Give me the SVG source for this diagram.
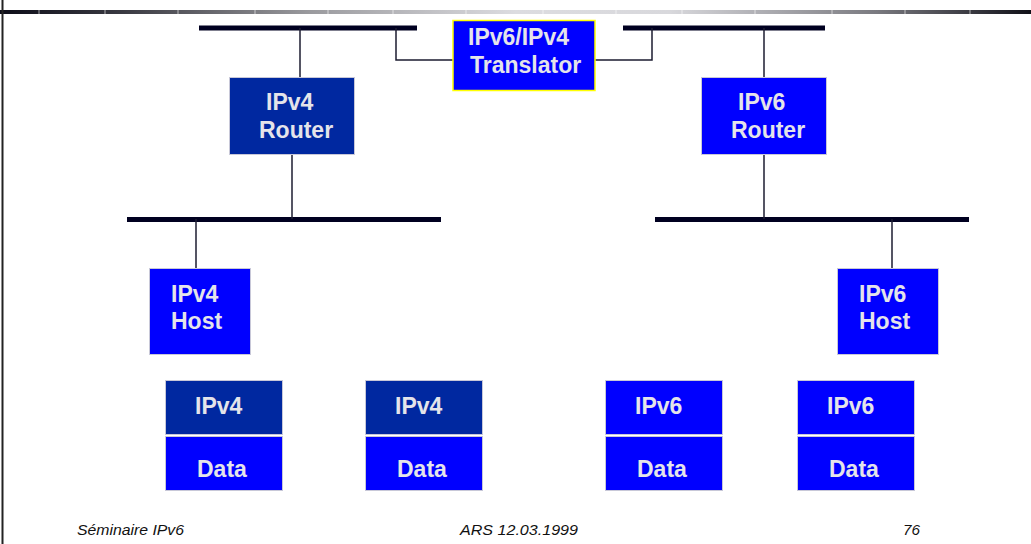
<svg xmlns="http://www.w3.org/2000/svg" width="1031" height="544" viewBox="0 0 1031 544">
<defs>
<linearGradient id="topbar" x1="0" y1="0" x2="1031" y2="0" gradientUnits="userSpaceOnUse">
<stop offset="0" stop-color="#0c0c18"/>
<stop offset="0.12" stop-color="#3a3a42"/>
<stop offset="0.3" stop-color="#9a9a9e"/>
<stop offset="0.5" stop-color="#dcdce0"/>
<stop offset="0.65" stop-color="#d8d8dc"/>
<stop offset="0.85" stop-color="#7a7a80"/>
<stop offset="1" stop-color="#101018"/>
</linearGradient>
</defs>
<style>
.dark{fill:#0028a0;stroke:#c8c8d8;stroke-width:1}
.bright{fill:#0000ff;stroke:#c8c8d8;stroke-width:1}
.lbl{font-family:"Liberation Sans",Arial,sans-serif;font-weight:bold;font-size:23px;fill:#e4e4ea}
.bus{stroke:#000020;stroke-width:5;fill:none}
.wire{stroke:#1c1c30;stroke-width:1.5;fill:none}
.foot{font-family:"Liberation Sans",Arial,sans-serif;font-style:italic;font-size:15px;fill:#111}
.tick{stroke:#ffffff;stroke-width:1;opacity:0.6}
</style>
<rect width="1031" height="544" fill="#ffffff"/>
<rect x="0" y="10" width="1031" height="4" fill="url(#topbar)"/>
<g>
<line class="tick" x1="39" y1="10" x2="39" y2="14"/>
<line class="tick" x1="105" y1="10" x2="105" y2="14"/>
<line class="tick" x1="178" y1="10" x2="178" y2="14"/>
<line class="tick" x1="255" y1="10" x2="255" y2="14"/>
<line class="tick" x1="328" y1="10" x2="328" y2="14"/>
<line class="tick" x1="393" y1="10" x2="393" y2="14"/>
<line class="tick" x1="466" y1="10" x2="466" y2="14"/>
<line class="tick" x1="543" y1="10" x2="543" y2="14"/>
<line class="tick" x1="616" y1="10" x2="616" y2="14"/>
<line class="tick" x1="682" y1="10" x2="682" y2="14"/>
<line class="tick" x1="755" y1="10" x2="755" y2="14"/>
<line class="tick" x1="832" y1="10" x2="832" y2="14"/>
<line class="tick" x1="905" y1="10" x2="905" y2="14"/>
<line class="tick" x1="970" y1="10" x2="970" y2="14"/>
</g>
<rect x="1.5" y="0" width="2" height="544" fill="#222"/>

<g id="connectors">
<line class="bus" x1="199" y1="28" x2="417" y2="28"/>
<line class="bus" x1="623" y1="28" x2="825" y2="28"/>
<line class="bus" x1="127" y1="219.5" x2="441" y2="219.5"/>
<line class="bus" x1="655" y1="219.5" x2="969" y2="219.5"/>
<polyline class="wire" points="396,28 396,60 453,60"/>
<polyline class="wire" points="595,60 652,60 652,28"/>
<line class="wire" x1="300" y1="28" x2="300" y2="77"/>
<line class="wire" x1="292" y1="155" x2="292" y2="219"/>
<line class="wire" x1="764" y1="28" x2="764" y2="77"/>
<line class="wire" x1="764" y1="155" x2="764" y2="219"/>
<line class="wire" x1="196" y1="219" x2="196" y2="268"/>
<line class="wire" x1="892" y1="219" x2="892" y2="268"/>
</g>

<g id="translator">
<rect x="453" y="20.5" width="142" height="70" fill="#0000ff" stroke="#ffff00" stroke-width="1.5"/>
<text class="lbl" x="468" y="45">IPv6/IPv4</text>
<text class="lbl" x="470" y="73">Translator</text>
</g>

<g id="ipv4-router">
<rect class="dark" x="229.5" y="77.5" width="125" height="77"/>
<text class="lbl" x="266" y="110">IPv4</text>
<text class="lbl" x="259" y="138">Router</text>
</g>

<g id="ipv6-router">
<rect class="bright" x="701.5" y="77.5" width="125" height="77"/>
<text class="lbl" x="738" y="110">IPv6</text>
<text class="lbl" x="731" y="138">Router</text>
</g>

<g id="ipv4-host">
<rect class="bright" x="149.5" y="268.5" width="101" height="86"/>
<text class="lbl" x="171" y="302">IPv4</text>
<text class="lbl" x="171" y="329">Host</text>
</g>

<g id="ipv6-host">
<rect class="bright" x="837.5" y="268.5" width="101" height="86"/>
<text class="lbl" x="859" y="302">IPv6</text>
<text class="lbl" x="859" y="329">Host</text>
</g>

<g id="packet1">
<rect class="dark" x="165.5" y="380.5" width="117" height="54"/>
<rect class="bright" x="165.5" y="436.5" width="117" height="54"/>
<text class="lbl" x="195" y="414">IPv4</text>
<text class="lbl" x="197" y="477">Data</text>
</g>

<g id="packet2">
<rect class="dark" x="365.5" y="380.5" width="117" height="54"/>
<rect class="bright" x="365.5" y="436.5" width="117" height="54"/>
<text class="lbl" x="395" y="414">IPv4</text>
<text class="lbl" x="397" y="477">Data</text>
</g>

<g id="packet3">
<rect class="bright" x="605.5" y="380.5" width="117" height="54"/>
<rect class="bright" x="605.5" y="436.5" width="117" height="54"/>
<text class="lbl" x="635" y="414">IPv6</text>
<text class="lbl" x="637" y="477">Data</text>
</g>

<g id="packet4">
<rect class="bright" x="797.5" y="380.5" width="117" height="54"/>
<rect class="bright" x="797.5" y="436.5" width="117" height="54"/>
<text class="lbl" x="827" y="414">IPv6</text>
<text class="lbl" x="829" y="477">Data</text>
</g>

<g id="footer">
<text class="foot" x="77" y="535" textLength="107" lengthAdjust="spacingAndGlyphs">Séminaire IPv6</text>
<text class="foot" x="460" y="535" textLength="118" lengthAdjust="spacingAndGlyphs">ARS 12.03.1999</text>
<text class="foot" x="903" y="535" textLength="17" lengthAdjust="spacingAndGlyphs">76</text>
</g>
</svg>
